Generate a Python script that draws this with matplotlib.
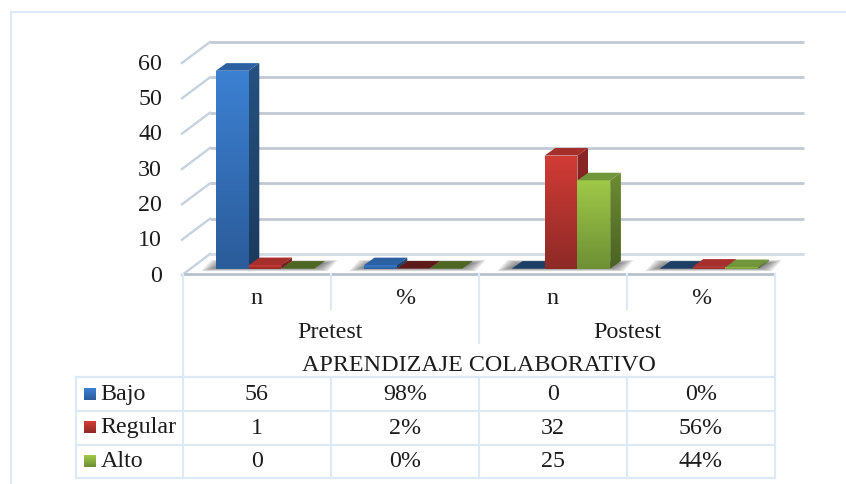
import numpy as np
import matplotlib
matplotlib.use('Agg')
import matplotlib.pyplot as plt
from matplotlib.colors import LinearSegmentedColormap
from matplotlib.patches import Polygon

plt.rcParams['font.family'] = ['Liberation Serif', 'DejaVu Serif']

# datos de la tabla
fases = ['Pretest', 'Postest']
medidas = ['n', '%', 'n', '%']
titulo = 'APRENDIZAJE COLABORATIVO'
niveles = ['Bajo', 'Regular', 'Alto']
bajo = [56, 0.98, 0, 0]
regular = [1, 0.02, 32, 0.56]
alto = [0, 0, 25, 0.44]
tabla_bajo = ['56', '98%', '0', '0%']
tabla_regular = ['1', '2%', '32', '56%']
tabla_alto = ['0', '0%', '25', '44%']
yticks = [0, 10, 20, 30, 40, 50, 60]

# colores: frente arriba, frente abajo, lado arriba, lado abajo, tapa, tapa oscura
estilos = [
    ('#3c80d2', '#2b5c9a', '#26527f', '#1b3a5e', '#2b60a2', '#1d3f66'),
    ('#d23b36', '#8e2a26', '#8c2723', '#6a1c19', '#a52f2b', '#5e1a18'),
    ('#9fc948', '#6e9034', '#6c8c31', '#4a6222', '#70953a', '#4f6622'),
]
negro = '#1c1c1c'
linea_tabla = '#dde9f7'

W, H = 846, 484
PX_CAT = 148.0   # pixeles por categoria
PX_VAL = 3.535   # pixeles por unidad
X0, Y0 = 183.0, 268.7
DX, DY = 10.7 / PX_CAT, 7.6 / PX_VAL  # fondo de cada barra
BAR = 32.8 / PX_CAT
MARGEN = 32.8 / PX_CAT

fig = plt.figure(figsize=(W / 100, H / 100), dpi=100, facecolor='white')

# ejes de datos: x en categorias, y en valores
ax = fig.add_axes([0, 0, 1, 1])
ax.axis('off')
xlim = (-X0 / PX_CAT, (W - X0) / PX_CAT)
ylim = ((Y0 - H) / PX_VAL, Y0 / PX_VAL)

# ejes en pixeles para la tabla y el marco
tb = fig.add_axes([0, 0, 1, 1], zorder=5)
tb.axis('off')
tb.patch.set_alpha(0)
tb.set_xlim(0, W)
tb.set_ylim(H, 0)


def degradado(puntos, c1, c2, z):
    pts = np.array(puntos)
    cmap = LinearSegmentedColormap.from_list('g', [c2, c1])
    g = np.linspace(1, 0, 64).reshape(-1, 1)
    im = ax.imshow(g, cmap=cmap, vmin=0, vmax=1, aspect='auto', zorder=z, interpolation='bilinear',
                   extent=(pts[:, 0].min(), pts[:, 0].max(), pts[:, 1].min(), pts[:, 1].max()))
    clip = Polygon(pts, closed=True, transform=ax.transData, fc='none', ec='none')
    ax.add_patch(clip)
    im.set_clip_path(clip)


def barra(x, v, est, z):
    c1, c2, s1, s2, tapa, tapa2 = est
    if v >= 0.3:
        degradado([(x, 0), (x + BAR, 0), (x + BAR, v), (x, v)], c1, c2, z)
        degradado([(x + BAR, 0), (x + BAR + DX, DY), (x + BAR + DX, v + DY), (x + BAR, v)], s1, s2, z + 0.1)
    else:
        ax.fill([x, x + BAR, x + BAR, x], [0, 0, v, v], color=c2, lw=0, zorder=z)
    color = tapa if (v >= 0.1) else tapa2
    ax.fill([x, x + BAR, x + BAR + DX, x + DX], [v, v, v + DY, v + DY], color=color, lw=0, zorder=z + 0.2)


def sombra(x, z):
    izq, der = x - 0.1, x + 3 * BAR + 0.16
    for k in range(12):
        e = k * 0.012
        f = k * 0.12
        ax.fill([izq + e, der - e - 0.07, der - e, izq + e + 0.07],
                [-0.7 + f, -0.7 + f, DY + 0.3 - f, DY + 0.3 - f],
                color='#444444', alpha=0.11, lw=0, zorder=z)


# paredes y lineas de division
base_frente = -1.8
base_fondo = base_frente + 21 / PX_VAL + 0.0
for v in yticks:
    c = '#d2dbe6' if v == 0 else '#c2c9d3'
    ax.plot([0.182, 4.196], [v + base_fondo, v + base_fondo], color=c, lw=2.0, zorder=1, solid_capstyle='butt')
    ax.plot([-0.007, 0.182], [v + base_frente, v + base_fondo], color='#c6d2df', lw=1.7, zorder=1)
    ax.text(-21 / PX_CAT, v + base_frente - 0.35, str(v), ha='right', va='center', fontsize=17.3, color=negro, zorder=3)

# barras
series = [bajo, regular, alto]
z = 4
for i in range(len(medidas)):
    x0 = i + MARGEN
    sombra(x0, 2)
    for j, s in enumerate(series):
        barra(x0 + j * BAR, s[i], estilos[j], z)
        z += 1

ax.set_xlim(*xlim)
ax.set_ylim(*ylim)

# linea frontal del piso
tb.plot([182, 775], [273.5, 273.5], color='#b7c1cd', lw=2.0, solid_capstyle='butt')

# marco exterior
tb.plot([10.5, 10.5, W], [H, 12, 12], color=linea_tabla, lw=1.5)

# tabla
filas_y = [377, 410.5, 444.5, 478]
cols_x = [183, 331, 479, 627, 775]
for y in filas_y:
    tb.plot([76, 775], [y, y], color=linea_tabla, lw=1.6, solid_capstyle='butt')
tb.plot([76, 76], [377, 478], color=linea_tabla, lw=1.6)
tb.plot([183, 183], [274, 478], color=linea_tabla, lw=1.6)
tb.plot([775, 775], [274, 478], color=linea_tabla, lw=1.6)
for x in [331, 627]:
    tb.plot([x, x], [274, 309], color=linea_tabla, lw=1.6)
    tb.plot([x, x], [377, 478], color=linea_tabla, lw=1.6)
tb.plot([479, 479], [274, 343], color=linea_tabla, lw=1.6)
tb.plot([479, 479], [377, 478], color=linea_tabla, lw=1.6)

fs = 17.3
for i, m in enumerate(medidas):
    tb.text((cols_x[i] + cols_x[i + 1]) / 2, 298, m, ha='center', va='center', fontsize=fs, color=negro)
tb.text(330, 332, fases[0], ha='center', va='center', fontsize=fs, color=negro)
tb.text(627, 332, fases[1], ha='center', va='center', fontsize=fs, color=negro)
tb.text(479, 365.5, titulo, ha='center', va='center', fontsize=fs, color=negro)

filas = [tabla_bajo, tabla_regular, tabla_alto]
for j, fila in enumerate(filas):
    yc = (filas_y[j] + filas_y[j + 1]) / 2
    tb.text(100.5, yc + 0.5, niveles[j], ha='left', va='center', fontsize=fs, color=negro)
    cm = LinearSegmentedColormap.from_list('k', [estilos[j][0], estilos[j][1]])
    tb.imshow(np.linspace(0, 1, 16).reshape(-1, 1), cmap=cm, aspect='auto',
              extent=(83.5, 95.5, yc + 6, yc - 6), zorder=3)
    for i, t in enumerate(fila):
        tb.text((cols_x[i] + cols_x[i + 1]) / 2, yc + 0.5, t, ha='center', va='center', fontsize=fs, color=negro)

tb.set_xlim(0, W)
tb.set_ylim(H, 0)

plt.savefig('out.png', dpi=100)
